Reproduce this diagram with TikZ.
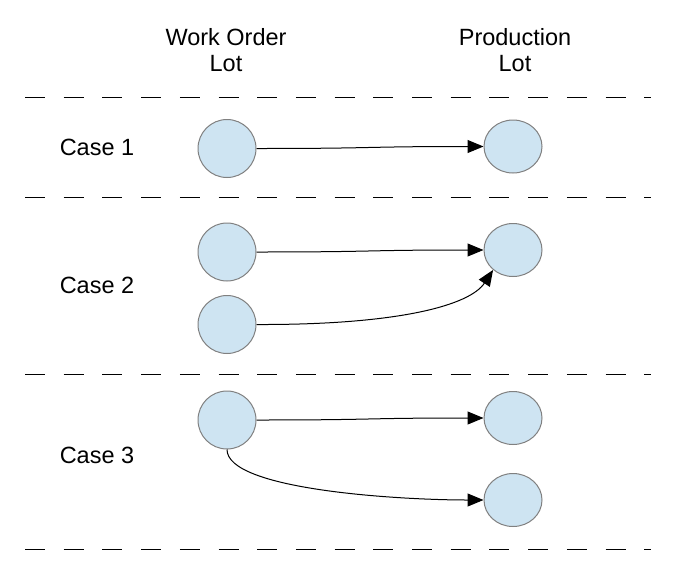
\documentclass[tikz,border=0pt]{standalone}
\usepackage{fontspec}
\setmainfont{Liberation Sans}
\usetikzlibrary{arrows.meta,shapes.geometric}
\definecolor{lotfill}{RGB}{206,228,242}
\definecolor{lotline}{RGB}{128,128,128}
\begin{document}
\begin{tikzpicture}[x=1pt,y=-1pt,
  lot/.style={ellipse, draw=lotline, fill=lotfill, line width=1pt, minimum width=58pt, inner sep=0pt},
  lotl/.style={lot, minimum height=58pt},
  lotr/.style={lot, minimum height=53pt},
  lbl/.style={font=\fontsize{23.5}{26.7}\selectfont, align=center, inner sep=0pt},
  sep/.style={line width=1.3pt, dash pattern=on 20pt off 18.7pt},
  link/.style={line width=1pt, -{Triangle[length=16pt,width=13pt]}}
]
\useasboundingbox (0,0) rectangle (678,582);
% headers
\node[lbl] (h1) at (226,50) {Work Order\\Lot};
\node[lbl] (h2) at (515,50) {Production\\Lot};
% separators
\coordinate (s1a) at (25,97.3); \coordinate (s1b) at (651,97.3);
\coordinate (s2a) at (25,197.3); \coordinate (s2b) at (651,197.3);
\coordinate (s3a) at (25,374.3); \coordinate (s3b) at (651,374.3);
\coordinate (s4a) at (25,549.3); \coordinate (s4b) at (651,549.3);
\draw[sep] (s1a) -- (s1b);
\draw[sep] (s2a) -- (s2b);
\draw[sep] (s3a) -- (s3b);
\draw[sep] (s4a) -- (s4b);
% case labels
\node[lbl] (c1) at (97,147) {Case 1};
\node[lbl] (c2) at (97,285) {Case 2};
\node[lbl] (c3) at (97,455) {Case 3};
% case 1
\node[lotl] (a1) at (227,148.5) {};
\node[lotr] (b1) at (513,146.5) {};
\draw[link] (a1.east) .. controls (380,148.5) and (360,146.5) .. (b1.west);
% case 2
\node[lotl] (a2) at (227,252) {};
\node[lotl] (a3) at (227,324.5) {};
\node[lotr] (b2) at (513,250) {};
\draw[link] (a2.east) .. controls (380,252) and (360,250) .. (b2.west);
\draw[link] (a3.east) .. controls (400,325) and (470,305) .. (b2.-135);
% case 3
\node[lotl] (a4) at (227,420) {};
\node[lotr] (b3) at (513,418) {};
\node[lotr] (b4) at (513,500) {};
\draw[link] (a4.east) .. controls (380,420) and (360,418) .. (b3.west);
\draw[link] (a4.south) .. controls (227,490) and (400,500) .. (b4.west);
\end{tikzpicture}
\end{document}
